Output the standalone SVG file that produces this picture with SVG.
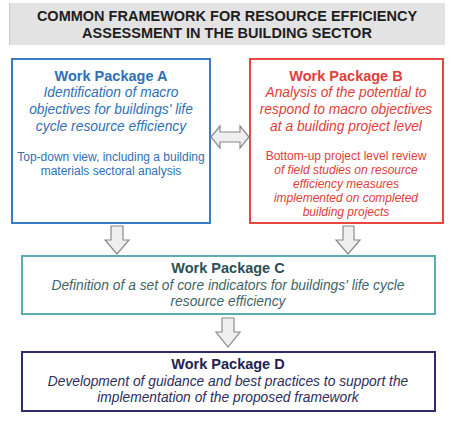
<svg xmlns="http://www.w3.org/2000/svg" width="452" height="423" viewBox="0 0 452 423">
<defs>
<style>
text{font-family:"Liberation Sans",Arial,sans-serif;text-anchor:middle}
.h{font-weight:bold;font-size:14.5px}
.i{font-style:italic;font-size:13.8px}
.n{font-size:12px}
.ni{font-size:12px;font-style:italic}
.arrow{fill:#efefef;stroke:#8a8a8a;stroke-width:1.2;stroke-linejoin:miter}
.box{fill:#fff;stroke-width:2}
</style>
</defs>
<rect width="452" height="423" fill="#fff"/>
<g id="title">
<rect x="9" y="3" width="436" height="42" fill="#e3e3e3"/>
<line x1="9.5" y1="3" x2="9.5" y2="45" stroke="#c8c8c8"/>
<text x="227" y="21" class="h" fill="#1e1e1e">COMMON FRAMEWORK FOR RESOURCE EFFICIENCY</text>
<text x="227" y="38" class="h" fill="#1e1e1e">ASSESSMENT IN THE BUILDING SECTOR</text>
</g>
<g id="wpA">
<rect x="12" y="59" width="198" height="164" class="box" stroke="#3a7cc4"/>
<g fill="#2f70b6">
<text x="111" y="81" class="h">Work Package A</text>
<text x="111" y="97" class="i">Identification of macro</text>
<text x="111" y="114" class="i">objectives for buildings' life</text>
<text x="111" y="131" class="i">cycle resource efficiency</text>
<text x="111" y="161" class="n">Top-down view, including a building</text>
<text x="111" y="175" class="n">materials sectoral analysis</text>
</g>
</g>
<g id="wpB">
<rect x="250" y="59" width="193" height="164" class="box" stroke="#e8463e"/>
<g fill="#e0403a">
<text x="346" y="81" class="h">Work Package B</text>
<text x="346" y="97" class="i">Analysis of the potential to</text>
<text x="346" y="114" class="i">respond to macro objectives</text>
<text x="346" y="131" class="i">at a building project level</text>
<text x="346" y="160" class="n">Bottom-up project level review</text>
<text x="346" y="174" class="ni">of field studies on resource</text>
<text x="346" y="188" class="ni">efficiency measures</text>
<text x="346" y="202" class="ni">implemented on completed</text>
<text x="346" y="216" class="ni">building projects</text>
</g>
</g>
<g id="wpC">
<rect x="22" y="256" width="413" height="58" class="box" stroke="#5aaeb2"/>
<text x="228" y="273" class="h" fill="#2c4f52">Work Package C</text>
<text x="228" y="290" class="i" fill="#3f6466">Definition of a set of core indicators for buildings' life cycle</text>
<text x="228" y="306" class="i" fill="#3f6466">resource efficiency</text>
</g>
<g id="wpD">
<rect x="22" y="352" width="413" height="59" class="box" stroke="#2d2c6c"/>
<text x="228" y="369" class="h" fill="#22224e">Work Package D</text>
<text x="228" y="386" class="i" fill="#2e2e5a">Development of guidance and best practices to support the</text>
<text x="228" y="402" class="i" fill="#2e2e5a">implementation of the proposed framework</text>
</g>
<g id="connectors">
<path class="arrow" d="M211,137 L220,126 L220,132 L240,132 L240,126 L249,137 L240,148 L240,142 L220,142 L220,148 Z"/>
<path class="arrow" d="M111,226 L123,226 L123,240 L129,240 L117,254 L105,240 L111,240 Z"/>
<path class="arrow" d="M343,226 L354,226 L354,240 L360,240 L348,254 L336,240 L343,240 Z"/>
<path class="arrow" d="M222,318 L234,318 L234,332 L240,332 L228,347 L216,332 L222,332 Z"/>
</g>
</svg>
